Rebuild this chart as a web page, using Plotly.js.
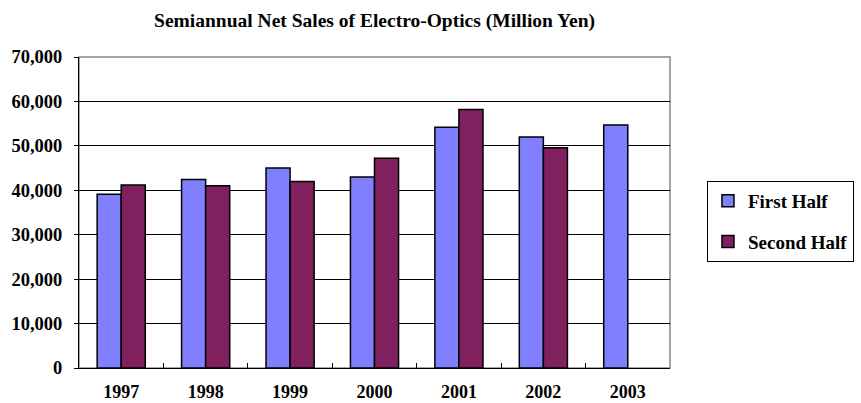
<!DOCTYPE html>
<html>
<head>
<meta charset="utf-8">
<script src="https://cdn.plot.ly/plotly-3.0.1.min.js"></script>
<style>
html,body{margin:0;padding:0;background:#fff;}
#chart{width:861px;height:403px;}
</style>
</head>
<body>
<div id="chart"></div>
<script>
const years = ["1997","1998","1999","2000","2001","2002","2003"];
const firstHalf = [39100, 42400, 45000, 43000, 54200, 52000, 54700];
const secondHalf = [41200, 41000, 42000, 47200, 58200, 49600, null];
const yTickVals = [0,10000,20000,30000,40000,50000,60000,70000];
const yTickText = ["0","10,000","20,000","30,000","40,000","50,000","60,000","70,000"];
const chartTitle = "Semiannual Net Sales of Electro-Optics (Million Yen)";

const FONT = "Liberation Serif";

const traces = [
  {type:"bar", name:"First Half", x:years, y:firstHalf, legendgroup:"a",
   marker:{color:"#8080FF", line:{color:"#000", width:1.5}}},
  {type:"bar", name:"Second Half", x:years, y:secondHalf, legendgroup:"b",
   marker:{color:"#80205F", line:{color:"#000", width:1.5}}}
];

const layout = {
  width:861, height:403,
  margin:{l:79, r:191, t:57, b:35},
  paper_bgcolor:"#fff", plot_bgcolor:"#fff",
  font:{family:FONT, color:"#000", size:18},
  title:{text:"<b>"+chartTitle+"</b>", x:0.435, xanchor:"center", y:0.95, yanchor:"middle",
         font:{family:FONT, size:19.5, color:"#000"}},
  barmode:"group", bargap:0.43, bargroupgap:0,
  showlegend:true,
  legend:{xref:"container", yref:"container", x:0.8211, xanchor:"left", y:0.5509, yanchor:"top",
          bordercolor:"#000", borderwidth:1, bgcolor:"#fff",
          font:{family:FONT, size:19, color:"#000", weight:"bold"},
          tracegroupgap:13, traceorder:"grouped"},
  xaxis:{type:"category", showgrid:false, showline:true, linecolor:"#000", linewidth:1,
         ticks:"inside", tickson:"boundaries", ticklen:5, tickcolor:"#000",
         ticklabelstandoff:7,
         tickfont:{family:FONT, size:18, weight:"bold"}, fixedrange:true},
  yaxis:{range:[0,70000], tickvals:yTickVals, ticktext:yTickText,
         showgrid:true, gridcolor:"#000", gridwidth:1,
         showline:true, linecolor:"#000", linewidth:1, ticks:"outside", ticklen:4, tickcolor:"#000",
         ticklabelstandoff:8,
         tickfont:{family:FONT, size:18.5, weight:"bold"}, zeroline:false, fixedrange:true},
  shapes:[{type:"rect", xref:"paper", yref:"paper", x0:0, x1:1, y0:0, y1:1,
           line:{color:"#888", width:1.5}, layer:"below"}]
};

Plotly.newPlot("chart", traces, layout, {staticPlot:true, displayModeBar:false});
</script>
</body>
</html>
